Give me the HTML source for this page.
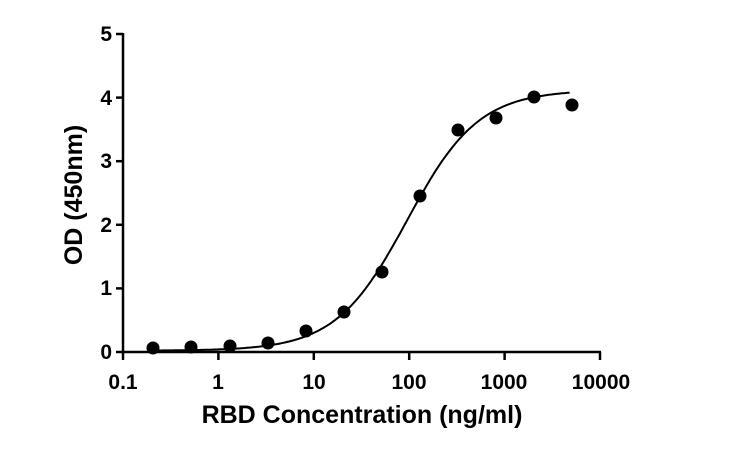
<!DOCTYPE html>
<html><head><style>body{margin:0;background:#fff}svg text{font-family:"Liberation Sans",Arial,sans-serif;font-weight:bold;fill:#000}</style></head>
<body>
<svg id="s" width="741" height="445" viewBox="0 0 741 445" xmlns="http://www.w3.org/2000/svg">
<g stroke="#000" stroke-width="2.5" fill="none">
<line x1="123" y1="33" x2="123" y2="353"/>
<line x1="122" y1="352" x2="601" y2="352"/>
<line x1="116" y1="34" x2="123" y2="34"/>
<line x1="116" y1="97.6" x2="123" y2="97.6"/>
<line x1="116" y1="161.2" x2="123" y2="161.2"/>
<line x1="116" y1="224.8" x2="123" y2="224.8"/>
<line x1="116" y1="288.4" x2="123" y2="288.4"/>
<line x1="116" y1="352" x2="123" y2="352"/>
<line x1="123" y1="352" x2="123" y2="360"/>
<line x1="218.4" y1="352" x2="218.4" y2="360"/>
<line x1="313.8" y1="352" x2="313.8" y2="360"/>
<line x1="409.2" y1="352" x2="409.2" y2="360"/>
<line x1="504.6" y1="352" x2="504.6" y2="360"/>
<line x1="600" y1="352" x2="600" y2="360"/>
<path id="c" stroke-width="2"/>
</g>
<g font-size="21" text-anchor="end">
<text x="112" y="41">5</text><text x="112" y="105">4</text><text x="112" y="168">3</text>
<text x="112" y="232">2</text><text x="112" y="295">1</text><text x="112" y="359">0</text>
</g>
<g font-size="21" text-anchor="middle">
<text x="123" y="389">0.1</text><text x="218" y="389">1</text><text x="314" y="389">10</text>
<text x="409" y="389">100</text><text x="504" y="389">1000</text><text x="601" y="389">10000</text>
</g>
<text x="362" y="423" font-size="25" text-anchor="middle">RBD Concentration (ng/ml)</text>
<text transform="translate(82,195) rotate(-90)" font-size="25" text-anchor="middle">OD (450nm)</text>
<g id="p" fill="#000"></g>
</svg>
<script>
var X=v=>123+95.4*(Math.log10(v)+1),Y=o=>352-63.6*o;
var f=c=>0.02+4.1/(1+Math.pow(95/c,1.16));
var d="";for(var lx=Math.log10(0.2);lx<=Math.log10(5000)+1e-9;lx+=0.02){var c=Math.pow(10,lx);d+=(d?"L":"M")+X(c).toFixed(1)+","+Y(f(c)).toFixed(1);}
document.getElementById("c").setAttribute("d",d);
var px=[153,191,230,268,306,344,382,420,458,496,534,572],py=[348,347,346,343,331,312,272,196,130,118,97,105],g="";
for(var i=0;i<12;i++)g+='<circle cx="'+px[i]+'" cy="'+py[i]+'" r="6.5"/>';
document.getElementById("p").innerHTML=g;
</script>
</body></html>
